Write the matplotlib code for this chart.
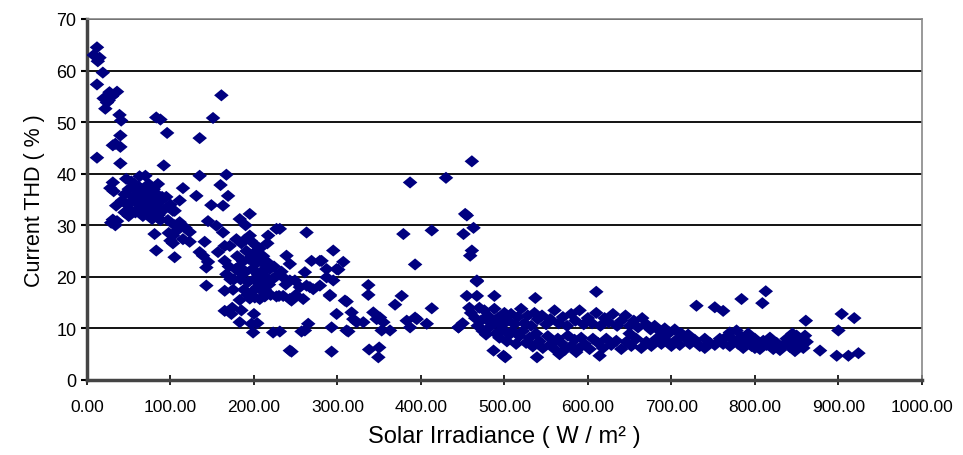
import matplotlib
matplotlib.use('Agg')
import matplotlib.pyplot as plt
from matplotlib.path import Path
import numpy as np

plt.rcParams['font.family'] = ['Liberation Sans', 'DejaVu Sans']

# low irradiance points (x < 130 W/m2)
x_low = [12, 8, 15, 13, 19, 12, 27, 36, 20, 24, 22, 26, 30, 39, 41, 83, 88, 96, 40, 31,
         40, 34, 12, 40, 92, 31, 32, 35, 31, 34, 29, 36, 28,
         45, 48, 50, 52, 55, 57, 58, 60, 62, 63, 65, 66, 68, 70, 70, 72, 74, 75,
         76, 78, 80, 82, 84, 86, 87, 88, 90, 92, 95, 97, 100, 103, 105, 45, 50, 53,
         42, 47, 60, 67, 78, 87, 81, 83, 56, 62, 73, 85, 64, 69, 58, 77,
         111, 105, 103, 103, 108, 111, 115, 123, 123, 118, 105, 115, 98, 100]
y_low = [64.5, 63, 62.5, 61.8, 59.6, 57.3, 55.8, 55.9, 54.6, 53.8, 52.6, 54.2, 55, 51.4, 50.3, 50.9, 50.5, 47.9, 47.4, 45.5,
         45.2, 45.8, 43.1, 42, 41.6, 38.3, 36.6, 33.8, 31.1, 30, 30.5, 30.8, 37.2,
         36, 34, 37, 33, 35.5, 38, 32.5, 36, 34, 39.5, 37, 33, 35, 39.6, 36.5, 34, 38, 32.5,
         36, 35, 37, 33.5, 36, 32, 34.5, 31, 35.5, 33, 35.5, 31, 34, 32.8, 30, 32.5, 31.8, 38.5,
         34.8, 39, 33, 31.8, 31.2, 31.2, 28.3, 25.1, 35, 37.5, 37, 38, 35.8, 33.2, 37, 33.8,
         34.8, 32.8, 28, 26.5, 29, 30.6, 27.3, 28.7, 26.8, 29.5, 23.8, 37.2, 28.5, 27]

# middle irradiance points (130 - 450 W/m2)
x_mid = [135, 135, 151, 161, 167, 160, 169, 131, 149, 163, 141, 145, 155, 163, 135, 139, 145, 143, 143, 157,
         165, 171, 179, 183, 195, 195, 227, 263, 165, 167, 165, 165, 173, 183, 197, 199, 223, 243, 261, 265,
         293, 293, 311, 319, 299, 317, 309, 291, 295, 287, 295, 307, 279, 287, 299, 261, 263, 271, 279, 259,
         243, 243, 235, 239, 243, 227, 213, 227, 207, 269, 281, 301, 249, 267, 337, 337, 377, 369, 291, 311,
         245, 413, 343, 347, 323, 331, 355, 383, 393, 387, 407, 445, 257, 313, 363, 231, 245, 338, 350, 349,
         387, 430, 413, 379, 393, 231, 351, 353, 395,
         180, 182, 184, 185, 187, 188, 190, 191, 193, 194, 196, 197, 198, 199, 200, 201, 202, 203, 204, 205,
         206, 207, 208, 209, 210, 211, 212, 213, 214, 215, 216, 218, 219, 220, 222, 224, 186, 192, 175, 176,
         178, 183, 195, 230, 235, 250, 255, 238, 233, 217, 190, 189, 170, 172, 174, 200, 204, 185]
y_mid = [39.6, 46.9, 50.8, 55.2, 39.8, 37.8, 35.7, 35.7, 33.9, 33.8, 26.8, 30.8, 29.9, 28.6, 24.8, 24.1, 22.9, 21.8, 18.3, 24.8,
         26, 26, 27.3, 31.2, 32.2, 28, 29.3, 28.6, 23.1, 20.5, 17.3, 13.4, 12.8, 11.2, 10.9, 9.2, 9.2, 5.7, 9.6, 10.9,
         5.5, 10.2, 9.6, 11.8, 12.8, 13.1, 15.4, 16.3, 19.3, 19.9, 25.1, 22.9, 23.1, 21.5, 21.5, 20.9, 18.3, 17.6, 18.3, 15.7,
         15.7, 19.3, 19.9, 24.1, 22.5, 20.2, 16.2, 16.2, 15.7, 23.1, 23.1, 21.4, 19.3, 18, 18.4, 16.5, 16.3, 14.6, 16.5, 15.2,
         15.4, 13.9, 13.1, 11.8, 11.2, 11.2, 11.2, 11.5, 12.1, 10.2, 10.9, 10.2, 9.4, 9.4, 9.6, 9.4, 5.5, 5.9, 6.3, 4.4,
         38.3, 39.2, 29, 28.3, 22.4, 29.3, 12.1, 9.6, 11.8,
         24, 22, 19.5, 26.5, 23, 17.5, 21, 25, 19, 23.5, 27, 17, 21.5, 24.5, 19.5, 16, 22.5, 26, 18, 20.5,
         23.5, 25.5, 17.5, 21, 19, 24, 22.5, 17.5, 20, 23, 26.5, 18.5, 21.5, 16.5, 19.5, 22, 20.5, 16.5, 17.5, 19.5,
         21.5, 15.5, 15.8, 16.3, 16.3, 16.5, 18, 18.5, 21, 28, 30, 27.2, 22, 19.5, 14, 12.8, 11, 13.5]

# high irradiance: scattered points
x_out = [461, 453, 455, 463, 451, 461, 459, 467, 467, 455, 467, 488, 537, 610, 487, 501, 499, 539, 566, 586,
         614, 730, 752, 762, 784, 813, 809, 861, 904, 919, 900, 878, 898, 912, 924, 445, 450, 458]
y_out = [42.4, 32.2, 31.9, 29.5, 28.3, 25.1, 24.1, 19.1, 19.3, 16.3, 16.3, 16.3, 15.9, 17.1, 5.7, 4.4, 4.7, 4.4, 5, 5.4,
         4.7, 14.4, 14.1, 13.4, 15.7, 17.2, 14.9, 11.5, 12.8, 12, 9.6, 5.7, 4.7, 4.7, 5.2, 10.2, 11, 14]

# high irradiance: upper band
x_upper = [460, 465, 470, 472, 476, 480, 484, 488, 492, 496, 500, 504, 508, 512, 516, 520, 524, 528, 532, 536,
           540, 545, 550, 555, 560, 565, 570, 575, 580, 585, 590, 595, 600, 605, 610, 615, 620, 625, 630, 635,
           640, 645, 650, 655, 660, 665, 670, 675, 680, 686, 692, 698, 704, 712, 720]
y_upper = [13, 12, 14, 11.5, 13.5, 12.5, 11, 13.8, 12, 10.5, 13, 11.5, 12.8, 10.8, 12.2, 13.8, 11, 12.5, 10.5, 13,
           11.8, 12.5, 10.8, 11.8, 13.5, 11, 12.2, 10.5, 12.8, 11.5, 13.5, 10.8, 12, 11, 13, 10.5, 12, 11.2, 12.8, 10.5,
           11.5, 12.5, 10.5, 11.5, 10.2, 12, 10.8, 9.8, 10.5, 9.5, 10, 9.2, 9.8, 9, 8.8]

# high irradiance: lower band
x_lower = [468, 474, 478, 482, 490, 494, 498, 503, 506, 510, 514, 518, 522, 526, 530, 534, 538, 542, 546, 552,
           556, 560, 564, 568, 572, 576, 580, 584, 588, 592, 596, 602, 606, 612, 618, 622, 628, 634, 640, 646,
           652, 658, 664, 670, 676, 682, 688, 694, 700]
y_lower = [10.5, 9.5, 8.8, 10.2, 9, 8.2, 9.8, 7.5, 8.8, 9.5, 7, 8.5, 9.5, 7.2, 8.2, 6.5, 9, 7.5, 6.2, 8.5,
           7, 6, 8, 7.2, 5.8, 8.6, 6.6, 7.8, 6, 8.2, 7, 6, 8, 7.2, 6.2, 8, 6.8, 7.6, 6, 7.4,
           6.6, 8, 6.2, 7.4, 6.6, 8, 7, 7.6, 6.6]

# high irradiance: merged band 700 - 865
x_band = [706, 710, 716, 722, 728, 734, 740, 746, 752, 758, 762, 766, 770, 774, 778, 780, 784, 786, 790, 792,
          796, 800, 802, 806, 810, 814, 818, 822, 826, 830, 834, 838, 842, 846, 848, 850, 852, 855, 858, 860,
          862, 845, 800, 770, 740, 690, 650]
y_band = [7.8, 6.8, 8.2, 7, 7.8, 6.6, 8, 7.2, 6.8, 8, 7, 8.4, 6.6, 7.8, 9.6, 7, 8.4, 6.2, 7.6, 9,
          6.6, 8, 7, 6, 7.6, 6.8, 8.2, 6, 7.2, 5.8, 6.8, 8, 6.4, 7.2, 5.6, 8.6, 6.8, 7.6, 6.2, 8.6,
          7.4, 9, 6.2, 9.2, 6.2, 9, 9]

xs = np.concatenate([x_low, x_mid, x_out, x_upper, x_lower, x_band])
ys = np.concatenate([y_low, y_mid, y_out, y_upper, y_lower, y_band])

# slightly wide diamond, like the original excel marker
wide_diamond = Path([(-1.2, 0), (0, 1), (1.2, 0), (0, -1), (-1.2, 0)],
                    [Path.MOVETO, Path.LINETO, Path.LINETO, Path.LINETO, Path.CLOSEPOLY])

fig = plt.figure(figsize=(9.63, 4.56), dpi=100)
ax = fig.add_axes([0.0903, 0.1645, 0.867, 0.7917])

for yv in range(10, 80, 10):
    ax.axhline(yv, color='black', lw=1.3, zorder=1)

ax.scatter(xs, ys, marker=wide_diamond, s=110, color='#000080', edgecolors='none', zorder=3)

ax.set_xlim(0, 1000)
ax.set_ylim(0, 70)
ax.set_xticks(np.arange(0, 1001, 100))
ax.set_xticklabels(['%.2f' % v for v in np.arange(0, 1001, 100)], fontsize=12.5)
ax.set_yticks(np.arange(0, 71, 10))
ax.tick_params(axis='y', labelsize=13, direction='out', length=4, width=1.5)
ax.tick_params(axis='x', direction='inout', length=7, width=1.2, pad=10)

ax.spines['left'].set_linewidth(2.5)
ax.spines['left'].set_color('#444444')
ax.spines['bottom'].set_linewidth(2.5)
ax.spines['bottom'].set_color('#444444')
ax.spines['right'].set_color('#888888')
ax.spines['right'].set_linewidth(1.2)
ax.spines['top'].set_color('#888888')
ax.spines['top'].set_linewidth(1.2)

ax.set_xlabel('Solar Irradiance ( W / m² )', fontsize=17, labelpad=8)
ax.set_ylabel('Current THD ( % )', fontsize=15.5, labelpad=8)

fig.savefig('out.png', dpi=100)
